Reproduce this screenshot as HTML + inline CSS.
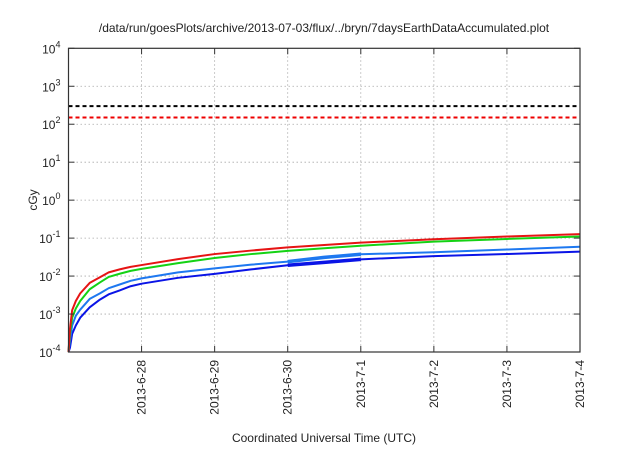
<!DOCTYPE html>
<html><head><meta charset="utf-8"><style>
body{margin:0;background:#fff;}
svg text{font-family:"Liberation Sans",sans-serif;fill:#222;}
</style></head><body>
<svg id="chart" width="640" height="448" viewBox="0 0 640 448" xmlns="http://www.w3.org/2000/svg">
<text x="324" y="32" font-size="12" text-anchor="middle">/data/run/goesPlots/archive/2013-07-03/flux/../bryn/7daysEarthDataAccumulated.plot</text>
<text x="324" y="442" font-size="12" text-anchor="middle">Coordinated Universal Time (UTC)</text>
<text x="0" y="0" font-size="12" text-anchor="middle" transform="translate(37,200) rotate(-90)">cGy</text>
<g id="grid"></g><g id="series"></g><g id="axes"></g>
</svg>
<script>
const days = [0, 0.02, 0.05, 0.1, 0.16, 0.29, 0.43, 0.55, 0.7, 0.85, 1, 1.5, 2, 2.5, 3, 3.5, 4, 5, 6, 7];
const red = [0.0001, 0.0004, 0.00126, 0.0022, 0.0035, 0.0066, 0.0093, 0.0125, 0.015, 0.0175, 0.0195, 0.028, 0.038, 0.047, 0.057, 0.066, 0.076, 0.093, 0.11, 0.127];
const green = [0.0001, 0.0003, 0.0008, 0.0014, 0.0022, 0.0045, 0.0068, 0.0095, 0.0115, 0.0137, 0.0155, 0.022, 0.030, 0.038, 0.046, 0.054, 0.063, 0.081, 0.095, 0.11];
const lightBlue = [0.0001, 0.0002, 0.0005, 0.0009, 0.0013, 0.0025, 0.0035, 0.0048, 0.006, 0.0075, 0.0087, 0.0125, 0.0159, 0.02, 0.024, 0.031, 0.0375, 0.0425, 0.05, 0.059];
const darkBlue = [0.0001, 0.00013, 0.0003, 0.0005, 0.0008, 0.0015, 0.0024, 0.0033, 0.0042, 0.0054, 0.0063, 0.009, 0.0114, 0.015, 0.0193, 0.023, 0.0276, 0.0335, 0.038, 0.044];
const thresholds = [300, 150];
const xTickLabels = ["2013-6-28","2013-6-29","2013-6-30","2013-7-1","2013-7-2","2013-7-3","2013-7-4"];
const yExps = [-4,-3,-2,-1,0,1,2,3,4];

const L=68.5,R=580,T=48.3,B=352;
const NS="http://www.w3.org/2000/svg";
const xs=d=>L+(R-L)*d/7;
const ys=v=>B-(B-T)*(Math.log10(v)+4)/8;
function mk(tag,attrs,parent){const e=document.createElementNS(NS,tag);for(const k in attrs)e.setAttribute(k,attrs[k]);parent.appendChild(e);return e;}
const grid=document.getElementById('grid'),ser=document.getElementById('series'),ax=document.getElementById('axes');
yExps.forEach(p=>{
  const y=ys(Math.pow(10,p));
  if(p>-4&&p<4){const g=mk('line',{x1:L,x2:R,y1:y,y2:y,stroke:'#aaa','stroke-width':0.8,'stroke-dasharray':'1.5,2.5'},grid);
  }
  const t=mk('line',{x1:L,x2:L+6,y1:y,y2:y,stroke:'#333','stroke-width':1},ax);
  
  const t2=mk('line',{x1:R-6,x2:R,y1:y,y2:y,stroke:'#333','stroke-width':1},ax);
  
  const tx=mk('text',{x:L-8,y:y+5,'font-size':12,'text-anchor':'end'},ax);
  
  tx.textContent='10';const s=mk('tspan',{dy:-6,'font-size':9},tx);s.textContent=String(p);
});
xTickLabels.forEach((lab,i)=>{
  const x=xs(i+1);
  if(i<6){const g=mk('line',{x1:x,x2:x,y1:T,y2:B,stroke:'#aaa','stroke-width':0.8,'stroke-dasharray':'1.5,2.5'},grid);
  }
  const t=mk('line',{x1:x,x2:x,y1:B-6,y2:B,stroke:'#333','stroke-width':1},ax);
  
  const t2=mk('line',{x1:x,x2:x,y1:T,y2:T+6,stroke:'#333','stroke-width':1},ax);
  
  const tx=mk('text',{x:0,y:0,'font-size':12,'text-anchor':'end',transform:`translate(${x+4},${B+8}) rotate(-90)`},ax);
  
  tx.textContent=lab;
});
const frame=mk('rect',{x:L,y:T,width:R-L,height:B-T,fill:'none',stroke:'#333','stroke-width':1.2},ax);

const thrColors=['#000','#e00'];
thresholds.forEach((v,i)=>{
  const l=mk('line',{x1:L,x2:R,y1:ys(v),y2:ys(v),stroke:thrColors[i],'stroke-width':2,'stroke-dasharray':'4,3'},ser);
  
});
const seriesList=[[darkBlue,'#0a14e6','dark-blue-series'],[lightBlue,'#1e78f0','light-blue-series'],[green,'#14d214','green-series'],[red,'#e61414','red-series']];
seriesList.forEach(([vals,c,n])=>{
  const d=vals.map((v,i)=>(i?'L':'M')+xs(days[i]).toFixed(2)+','+ys(v).toFixed(2)).join(' ');
  const p=mk('path',{d:d,fill:'none',stroke:c,'stroke-width':2,'stroke-linejoin':'round'},ser);
  
  if(c.startsWith('#0a')||c.startsWith('#1e')){
    const seg=vals.map((v,i)=>[days[i],v]).filter(a=>a[0]>=3&&a[0]<=4);
    const d2=seg.map((a,i)=>(i?'L':'M')+xs(a[0]).toFixed(2)+','+ys(a[1]).toFixed(2)).join(' ');
    const q=mk('path',{d:d2,fill:'none',stroke:c,'stroke-width':3.5},ser);
    
  }
});
</script>
</body></html>
